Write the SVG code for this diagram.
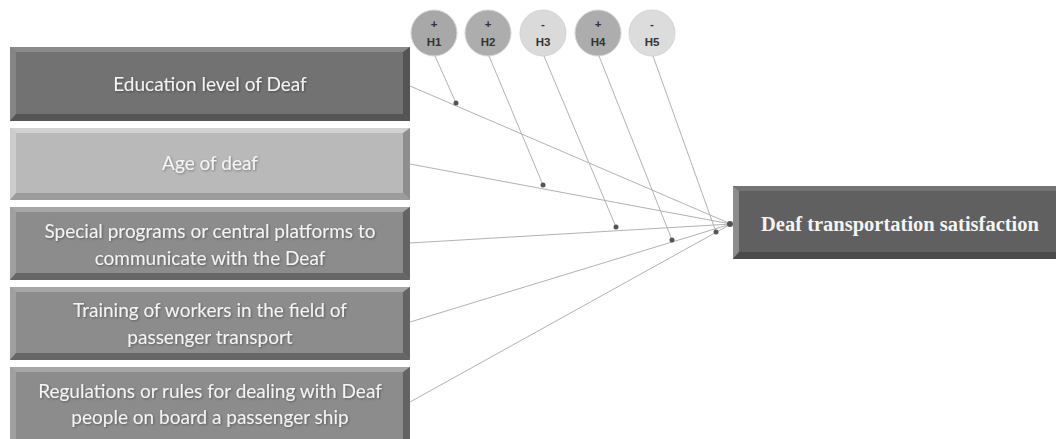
<svg xmlns="http://www.w3.org/2000/svg" width="1056" height="439" viewBox="0 0 1056 439">
<defs>
<style>
.lbl{font-family:Lato,"Liberation Sans",sans-serif;font-size:19px;fill:#f4f4f4;text-anchor:middle;filter:url(#sh)}
.tgt{font-family:"Liberation Serif",serif;font-weight:bold;font-size:20.5px;fill:#f4f4f4;text-anchor:middle}
.hc{stroke:#d4d4d4;stroke-width:1}
.ht{font-family:"Liberation Sans",sans-serif;font-weight:bold;font-size:11.5px;fill:#333;text-anchor:middle}
.con{stroke:#b2b2b2;stroke-width:1;fill:none}
.dot{fill:#555}
</style>
<filter id="sh" x="-10%" y="-30%" width="120%" height="160%">
<feDropShadow dx="1" dy="1" stdDeviation="0.8" flood-color="#000" flood-opacity="0.35"/>
</filter>
</defs>
<rect width="1056" height="439" fill="#fff"/>

<g id="n1">
<rect x="10" y="47" width="400" height="74" fill="#727272"/>
<polygon points="10,47 410,47 404,52 16,52" fill="#8a8a8a"/>
<polygon points="10,47 16,52 16,114 10,121" fill="#858585"/>
<polygon points="410,47 410,121 403,114 403,52" fill="#545454"/>
<polygon points="10,121 16,114 403,114 410,121" fill="#555"/>
<text class="lbl" x="210" y="91">Education level of Deaf</text>
</g>

<g id="n2">
<rect x="10" y="128" width="400" height="72" fill="#b9b9b9"/>
<polygon points="10,128 410,128 404,133 16,133" fill="#d2d2d2"/>
<polygon points="10,128 16,133 16,193 10,200" fill="#cccccc"/>
<polygon points="410,128 410,200 403,193 403,133" fill="#8e8e8e"/>
<polygon points="10,200 16,193 403,193 410,200" fill="#9c9c9c"/>
<text class="lbl" x="210" y="170">Age of deaf</text>
</g>

<g id="n3">
<rect x="10" y="207" width="400" height="73" fill="#8c8c8c"/>
<polygon points="10,207 410,207 404,212 16,212" fill="#a6a6a6"/>
<polygon points="10,207 16,212 16,273 10,280" fill="#a0a0a0"/>
<polygon points="410,207 410,280 403,273 403,212" fill="#636363"/>
<polygon points="10,280 16,273 403,273 410,280" fill="#666"/>
<text class="lbl" x="210" y="238">Special programs or central platforms to</text>
<text class="lbl" x="210" y="265">communicate with the Deaf</text>
</g>

<g id="n4">
<rect x="10" y="287" width="400" height="73" fill="#8c8c8c"/>
<polygon points="10,287 410,287 404,292 16,292" fill="#a6a6a6"/>
<polygon points="10,287 16,292 16,353 10,360" fill="#a0a0a0"/>
<polygon points="410,287 410,360 403,353 403,292" fill="#636363"/>
<polygon points="10,360 16,353 403,353 410,360" fill="#666"/>
<text class="lbl" x="210" y="317">Training of workers in the field of</text>
<text class="lbl" x="210" y="344">passenger transport</text>
</g>

<g id="n5">
<rect x="10" y="367" width="400" height="72" fill="#8c8c8c"/>
<polygon points="10,367 410,367 404,372 16,372" fill="#a6a6a6"/>
<polygon points="10,367 16,372 16,439 10,439" fill="#a0a0a0"/>
<polygon points="410,367 410,439 403,439 403,372" fill="#636363"/>
<text class="lbl" x="210" y="398">Regulations or rules for dealing with Deaf</text>
<text class="lbl" x="210" y="424">people on board a passenger ship</text>
</g>

<g id="target">
<rect x="733" y="186" width="330" height="73" fill="#606060"/>
<polygon points="733,186 1063,186 1057,191 739,191" fill="#747474"/>
<polygon points="733,186 739,191 739,252 733,259" fill="#8c8c8c"/>
<polygon points="733,259 739,252 1057,252 1063,259" fill="#4a4a4a"/>
<text class="tgt" x="900" y="231">Deaf transportation satisfaction</text>
</g>

<g id="h1"><circle class="hc" cx="434" cy="33" r="23" fill="#a8a8a8"/><text class="ht" x="434" y="28">+</text><text class="ht" x="434" y="46">H1</text></g>
<g id="h2"><circle class="hc" cx="488" cy="33" r="23" fill="#adadad"/><text class="ht" x="488" y="28">+</text><text class="ht" x="488" y="46">H2</text></g>
<g id="h3"><circle class="hc" cx="543" cy="33" r="23" fill="#dadada"/><text class="ht" x="543" y="28">-</text><text class="ht" x="543" y="46">H3</text></g>
<g id="h4"><circle class="hc" cx="598" cy="33" r="23" fill="#adadad"/><text class="ht" x="598" y="28">+</text><text class="ht" x="598" y="46">H4</text></g>
<g id="h5"><circle class="hc" cx="652" cy="33" r="23" fill="#dcdcdc"/><text class="ht" x="652" y="28">-</text><text class="ht" x="652" y="46">H5</text></g>

<g id="connectors">
<line class="con" x1="410" y1="86" x2="731" y2="224"/>
<line class="con" x1="410" y1="164" x2="731" y2="224"/>
<line class="con" x1="410" y1="243" x2="731" y2="224"/>
<line class="con" x1="410" y1="322" x2="731" y2="224"/>
<line class="con" x1="410" y1="402" x2="731" y2="224"/>
<circle class="dot" cx="730" cy="224" r="3"/>
<line class="con" x1="435" y1="56" x2="456" y2="103"/>
<line class="con" x1="489" y1="56" x2="543" y2="185"/>
<line class="con" x1="544" y1="56" x2="616" y2="227"/>
<line class="con" x1="599" y1="56" x2="672" y2="240"/>
<line class="con" x1="653" y1="56" x2="716" y2="232"/>
<circle class="dot" cx="456" cy="103" r="2.5"/>
<circle class="dot" cx="543" cy="185" r="2.5"/>
<circle class="dot" cx="616" cy="227" r="2.5"/>
<circle class="dot" cx="672" cy="240" r="2.5"/>
<circle class="dot" cx="716" cy="232" r="2.5"/>
</g>
</svg>
